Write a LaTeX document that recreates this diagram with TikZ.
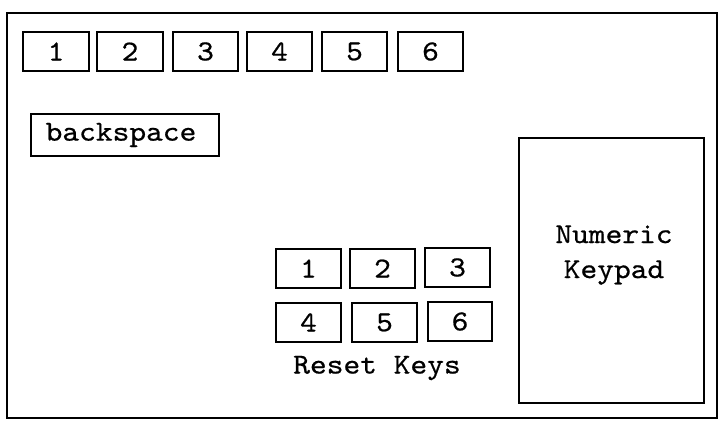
\documentclass[tikz,border=0pt]{standalone}
\usepackage{fontspec}
\newfontfamily\keyfont[FakeStretch=1.1,FakeBold=0.6]{lmmono10-regular.otf}
\begin{document}
\begin{tikzpicture}[x=1pt,y=-1pt,
  keybox/.style={draw, line width=1.6pt, inner sep=0pt},
  lbl/.style={font=\keyfont\fontsize{29}{33}\selectfont, inner sep=0pt}]
\useasboundingbox (0,0) rectangle (721,421);
% outer panel
\draw[line width=2.4pt] (7,13) rectangle (717,418);
% top row of keys
\foreach \n/\a/\b in {1/23/89, 2/97/163, 3/173/238, 4/247/312, 5/322/387, 6/398/463} {
  \draw[keybox] (\a,32) rectangle (\b,71);
  \node[lbl] (t\n) at ({(\a+\b)/2},51.5) {\n};
}
% backspace key
\draw[keybox] (31,114) rectangle (219,156);
\node[lbl] (bs) at (121,135) {backspace};
% reset keys
\foreach \n/\a/\b/\t in {1/276/341/249, 2/350/415/249, 3/425/490/248,
                         4/276/341/303, 5/352/417/303, 6/428/492/302} {
  \draw[keybox] (\a,\t) rectangle (\b,\t+39);
  \node[lbl] (r\n) at ({(\a+\b)/2},\t+19.5) {\n};
}
\node[lbl] (rk) at (377,368) {Reset Keys};
% numeric keypad
\draw[keybox] (519,138) rectangle (704,403);
\node[lbl, align=center] (np) at (614,255) {Numeric\\[2pt]Keypad};
\end{tikzpicture}
\end{document}
